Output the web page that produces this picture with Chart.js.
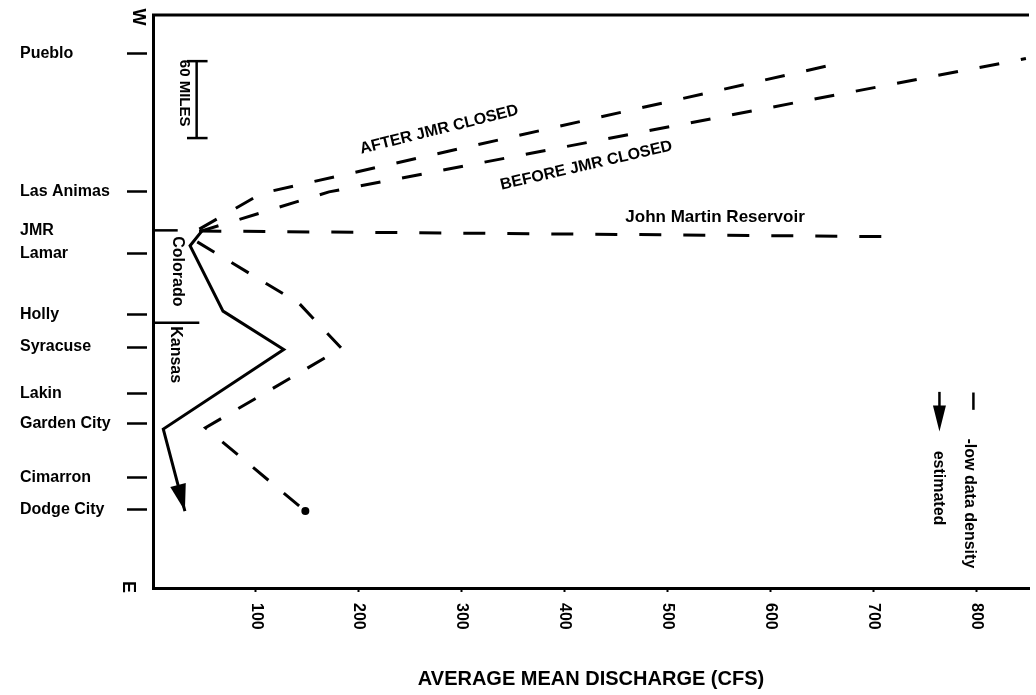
<!DOCTYPE html>
<html>
<head>
    <title>Average mean discharge • Arkansas River</title>
    <meta charset="UTF-8" />
    <script src="https://cdn.jsdelivr.net/npm/chart.js@4.4.1/dist/chart.umd.min.js"></script>
    <style>
        html, body { margin: 0; padding: 0; background: #fff; }
        .content { position: relative; width: 1036px; height: 695px; }
    </style>
</head>
<body>
    <div class="content">
        <canvas id="chart"></canvas>
    </div>

    <script>
        // stations along the river, miles downstream from the W edge
        const cityNames = ['Pueblo', 'Las Animas', 'JMR', 'Lamar', 'Holly', 'Syracuse', 'Lakin', 'Garden City', 'Cimarron', 'Dodge City'];
        const cityMiles = [30, 138, 168, 186, 234, 259, 295, 319, 361, 386];
        const xTickValues = [100, 200, 300, 400, 500, 600, 700, 800];

        // discharge (cfs) and position (miles) of each line
        const solidQ = [48, 36, 68, 127, 10, 31];
        const solidMi = [168, 180, 231, 261, 323, 387];

        const lowerQ = [43, 142, 183, 51, 148];
        const lowerMi = [177, 225, 260, 322, 387];

        const afterQ = [45, 106, 659];
        const afterMi = [167, 139, 39];

        const beforeQ = [45, 171, 848];
        const beforeMi = [169, 138, 34];

        const reservoirQ = [45, 728];
        const reservoirMi = [168.5, 173];

        const FONT = '"Liberation Sans", Arial, sans-serif';
        const ink = '#000';

        function points(qs, mis) {
            return qs.map((q, i) => ({ x: q, y: mis[i] }));
        }

        function rotatedText(ctx, text, x, y, deg, size, align) {
            ctx.save();
            ctx.translate(x, y);
            ctx.rotate(deg * Math.PI / 180);
            ctx.font = `bold ${size}px ${FONT}`;
            ctx.textAlign = align || 'center';
            ctx.textBaseline = 'middle';
            ctx.fillText(text, 0, 0);
            ctx.restore();
        }

        function line(ctx, x1, y1, x2, y2, w) {
            ctx.lineWidth = w;
            ctx.beginPath();
            ctx.moveTo(x1, y1);
            ctx.lineTo(x2, y2);
            ctx.stroke();
        }

        function arrowHead(ctx, tipX, tipY, angle, len, half) {
            ctx.save();
            ctx.translate(tipX, tipY);
            ctx.rotate(angle);
            ctx.beginPath();
            ctx.moveTo(0, 0);
            ctx.lineTo(-len, -half);
            ctx.lineTo(-len, half);
            ctx.closePath();
            ctx.fill();
            ctx.restore();
        }

        const annotations = {
            id: 'annotations',
            afterDraw(chart) {
                const ctx = chart.ctx;
                const area = chart.chartArea;
                const px = v => chart.scales.x.getPixelForValue(v);
                const py = v => chart.scales.y.getPixelForValue(v);

                ctx.save();
                ctx.setLineDash([]);
                ctx.fillStyle = ink;
                ctx.strokeStyle = ink;

                // frame top and the W / E ends of the axis
                line(ctx, area.left - 1, area.top, area.right, area.top, 3);
                rotatedText(ctx, 'W', area.left - 15, area.top + 2, 90, 18);
                rotatedText(ctx, 'E', area.left - 25, area.bottom - 1, 90, 18);

                // x tick labels, turned clockwise
                xTickValues.forEach(v => rotatedText(ctx, String(v), px(v), area.bottom + 15, 90, 16, 'left'));

                // JMR and state line markers
                line(ctx, area.left, py(cityMiles[2]), px(24), py(cityMiles[2]), 2.5);
                line(ctx, area.left, py(240), px(45), py(240), 2.5);
                rotatedText(ctx, 'Colorado', px(24), py(200), 90, 16);
                rotatedText(ctx, 'Kansas', px(22), py(265), 90, 16);

                // 60 mile scale bar
                line(ctx, px(42.4), py(36), px(42.4), py(96), 2.5);
                line(ctx, px(33), py(36), px(53), py(36), 2.5);
                line(ctx, px(33), py(96), px(53), py(96), 2.5);
                rotatedText(ctx, '60 MILES', px(30.5), py(61), 90, 15);

                // series labels
                rotatedText(ctx, 'AFTER JMR CLOSED', px(278), py(89.5), -14, 16);
                rotatedText(ctx, 'BEFORE JMR CLOSED', px(421), py(117.5), -13, 16);
                ctx.font = `bold 17px ${FONT}`;
                ctx.textAlign = 'center';
                ctx.textBaseline = 'middle';
                ctx.fillText('John Martin Reservoir', px(546), py(157.5));

                // arrow at the end of the estimated line
                const pts = chart.getDatasetMeta(0).data;
                const a = pts[pts.length - 2], b = pts[pts.length - 1];
                arrowHead(ctx, b.x, b.y, Math.atan2(b.y - a.y, b.x - a.x), 27, 8);

                // legend
                line(ctx, px(797), py(294.5), px(797), py(308), 2.5);
                rotatedText(ctx, '-low data density', px(793), py(381), 90, 16);
                line(ctx, px(764), py(294), px(764), py(308), 2.5);
                arrowHead(ctx, px(764), py(325), Math.PI / 2, 26, 6.5);
                rotatedText(ctx, 'estimated', px(763), py(369), 90, 16);

                ctx.restore();
            }
        };

        const lineStyle = {
            showLine: true,
            borderColor: ink,
            backgroundColor: ink,
            borderWidth: 3,
            borderJoinStyle: 'miter',
            pointRadius: 0,
            tension: 0
        };

        new Chart('chart', {
            type: 'scatter',
            data: {
                datasets: [
                    { ...lineStyle, data: points(solidQ, solidMi) },
                    {
                        ...lineStyle, data: points(lowerQ, lowerMi), borderDash: [20, 20],
                        pointRadius: c => c.dataIndex === lowerQ.length - 1 ? 2.5 : 0
                    },
                    { ...lineStyle, data: points(afterQ, afterMi), borderDash: [20, 22] },
                    { ...lineStyle, data: points(beforeQ, beforeMi), borderDash: [20, 22] },
                    { ...lineStyle, data: points(reservoirQ, reservoirMi), borderDash: [22, 22] }
                ]
            },
            plugins: [annotations],
            options: {
                responsive: true,
                maintainAspectRatio: false,
                animation: false,
                layout: { padding: { top: 15, left: 20, right: 0, bottom: 0 } },
                plugins: {
                    legend: { display: false },
                    tooltip: { enabled: false }
                },
                scales: {
                    x: {
                        type: 'linear',
                        min: 0,
                        max: 851,
                        afterBuildTicks: scale => { scale.ticks = xTickValues.map(v => ({ value: v })); },
                        afterFit: scale => { scale.height = 107; },
                        border: { color: ink, width: 3 },
                        grid: { drawOnChartArea: false, tickLength: 4, tickWidth: 2, tickColor: ink },
                        ticks: { display: false },
                        title: {
                            display: true,
                            text: 'AVERAGE MEAN DISCHARGE (CFS)',
                            color: ink,
                            font: { family: FONT, size: 20, weight: 'bold' },
                            padding: { top: 0, bottom: 4 }
                        }
                    },
                    y: {
                        type: 'linear',
                        reverse: true,
                        min: 0,
                        max: 447,
                        afterBuildTicks: scale => { scale.ticks = cityMiles.map(v => ({ value: v })); },
                        afterFit: scale => { scale.width = 133; },
                        border: { color: ink, width: 3 },
                        grid: {
                            drawOnChartArea: false,
                            tickLength: 26,
                            tickWidth: 2.5,
                            tickBorderDash: [20, 40],
                            tickColor: c => cityNames[c.index] === 'JMR' ? 'rgba(0,0,0,0)' : ink
                        },
                        ticks: {
                            crossAlign: 'far',
                            color: ink,
                            font: { family: FONT, size: 16, weight: 'bold' },
                            callback: (value, i) => cityNames[i]
                        }
                    }
                }
            }
        });
    </script>
</body>
</html>
